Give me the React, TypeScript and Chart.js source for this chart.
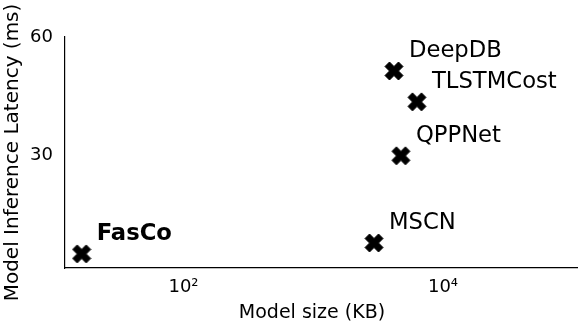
import React, { useEffect, useRef } from "react";
import { Chart, registerables } from "chart.js";

Chart.register(...registerables);

const MODELS = ["FasCo", "MSCN", "QPPNet", "TLSTMCost", "DeepDB"];
const SIZES_KB = [16.4, 2940, 4740, 6300, 4190];
const LATENCY_MS = [4.7, 7.5, 29.8, 43.6, 51.5];
const BOLD_MODELS = ["FasCo"];

const X_TICK_VALUES = [100, 10000];
const X_TICK_LABELS = ["10²", "10⁴"];
const Y_TICK_VALUES = [30, 60];

const FONT = "'DejaVu Sans', sans-serif";

function makeXMarker(size: number): HTMLCanvasElement {
  const c = document.createElement("canvas");
  const pad = 1;
  c.width = size + pad * 2;
  c.height = size + pad * 2;
  const ctx = c.getContext("2d")!;
  const pts = [
    [-0.25, -0.5], [0, -0.25], [0.25, -0.5], [0.5, -0.25], [0.25, 0], [0.5, 0.25],
    [0.25, 0.5], [0, 0.25], [-0.25, 0.5], [-0.5, 0.25], [-0.25, 0], [-0.5, -0.25],
  ];
  const cx = c.width / 2;
  const cy = c.height / 2;
  ctx.beginPath();
  pts.forEach(([px, py], i) => {
    const x = cx + px * size;
    const y = cy + py * size;
    if (i === 0) ctx.moveTo(x, y);
    else ctx.lineTo(x, y);
  });
  ctx.closePath();
  ctx.fillStyle = "#000";
  ctx.fill();
  ctx.lineWidth = 1;
  ctx.strokeStyle = "#000";
  ctx.stroke();
  return c;
}

const labelPlugin = {
  id: "pointLabels",
  afterDatasetsDraw(chart: any) {
    const meta = chart.getDatasetMeta(0);
    const ctx = chart.ctx;
    ctx.save();
    ctx.fillStyle = "#000";
    ctx.textAlign = "left";
    ctx.textBaseline = "alphabetic";
    meta.data.forEach((el: any, i: number) => {
      const name = MODELS[i];
      const bold = BOLD_MODELS.includes(name);
      ctx.font = `${bold ? "bold " : ""}22.7px ${FONT}`;
      ctx.fillText(name, el.x + 15, el.y - 14);
    });
    ctx.restore();
  },
};

export default function App() {
  const ref = useRef<HTMLCanvasElement>(null);

  useEffect(() => {
    if (!ref.current) return;
    const marker = makeXMarker(18);
    const chart = new Chart(ref.current, {
      type: "scatter",
      data: {
        datasets: [
          {
            data: SIZES_KB.map((x, i) => ({ x, y: LATENCY_MS[i] })),
            pointStyle: marker as any,
            pointRadius: 10,
            backgroundColor: "#000",
            borderColor: "#000",
          },
        ],
      },
      options: {
        responsive: false,
        animation: false,
        devicePixelRatio: 1,
        layout: { autoPadding: false, padding: { top: 37, right: 4, left: 0, bottom: 0 } },
        plugins: {
          legend: { display: false },
          tooltip: { enabled: false },
        },
        scales: {
          x: {
            type: "logarithmic",
            min: 12.2,
            max: 107900,
            grid: { display: false, drawTicks: false },
            border: { display: true, color: "#000", width: 1.2 },
            afterBuildTicks: (s: any) => {
              s.ticks = X_TICK_VALUES.map((v) => ({ value: v }));
            },
            afterFit: (s: any) => {
              s.height = 63;
              s.paddingLeft = 0;
              s.paddingRight = 0;
            },
            ticks: {
              color: "#000",
              padding: 9,
              maxRotation: 0,
              autoSkip: false,
              font: { family: FONT, size: 18 },
              callback: (v: any) => {
                const idx = X_TICK_VALUES.indexOf(Number(v));
                return idx >= 0 ? X_TICK_LABELS[idx] : "";
              },
            },
            title: {
              display: true,
              text: "Model size (KB)   ",
              color: "#000",
              font: { family: FONT, size: 19 },
              padding: { top: 0, bottom: 7 },
            },
          },
          y: {
            type: "linear",
            min: 1.1,
            max: 60.18,
            grid: { display: false, drawTicks: false },
            border: { display: true, color: "#000", width: 1.2 },
            afterBuildTicks: (s: any) => {
              s.ticks = Y_TICK_VALUES.map((v) => ({ value: v }));
            },
            afterFit: (s: any) => {
              s.width = 65;
            },
            ticks: {
              color: "#000",
              padding: 12,
              font: { family: FONT, size: 18 },
              callback: (v: any) => String(v),
            },
            title: {
              display: true,
              text: "Model Inference Latency (ms)",
              color: "#000",
              font: { family: FONT, size: 20 },
              padding: { top: 1, bottom: 0 },
            },
          },
        },
      },
      plugins: [labelPlugin],
    });
    return () => chart.destroy();
  }, []);

  return (
    <div style={{ position: "absolute", left: 0, top: 0, width: 581, height: 331, background: "#fff" }}>
      <canvas ref={ref} width={581} height={331} />
    </div>
  );
}
